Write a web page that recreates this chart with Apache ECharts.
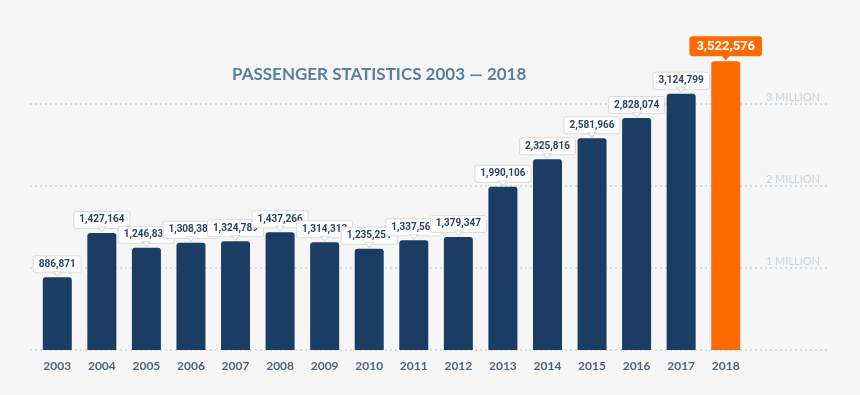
<!DOCTYPE html>
<html><head><meta charset="utf-8">
<script src="https://cdn.jsdelivr.net/npm/echarts@6/dist/echarts.min.js"></script>
<style>html,body{margin:0;padding:0;background:#f6f6f6}#c{width:860px;height:395px}</style>
</head><body><div id="c"></div>
<script>
const years = ['2003','2004','2005','2006','2007','2008','2009','2010','2011','2012','2013','2014','2015','2016','2017','2018'];
const passengers = [886871,1427164,1246834,1308386,1324789,1437266,1314313,1235251,1337562,1379347,1990106,2325816,2581966,2828074,3124799,3522576];
const highlightYear = '2018';
const yTicks = {0:'',1000000:'1 MILLION',2000000:'2 MILLION',3000000:'3 MILLION'};
const titleText = 'PASSENGER STATISTICS 2003 \u2014 2018';

const navy = '#1b3c63', orange = '#ff6a00';
const fmt = v => v.toLocaleString('en-US');

const data = passengers.map((v,i) => {
  const hi = years[i] === highlightYear;
  return {
    value: v,
    itemStyle: {color: hi ? orange : navy},
    label: hi ? {
      backgroundColor: orange, color: '#fff', fontSize: 13, fontWeight: 'bold',
      borderColor: orange, padding: [3,6,2,6], distance: 6
    } : {}
  };
});

const pointers = passengers.map((v,i) => {
  const hi = years[i] === highlightYear;
  return {
    coord: [years[i], v],
    symbolOffset: [0, hi ? -4 : -3.5],
    itemStyle: hi ? {color: orange, borderColor: orange} : {color: '#ffffff', borderColor: '#dcdcdc'}
  };
});

const chart = echarts.init(document.getElementById('c'));
chart.setOption({
  backgroundColor: '#f6f6f6',
  animation: false,
  title: {
    text: titleText, left: 227, top: 61,
    textStyle: {fontFamily: 'Lato', fontWeight: 'bold', fontSize: 17, color: '#5b7e9e'}
  },
  grid: [
    {left: 30, right: 31, top: 54.8, bottom: 45},
    {left: 35, right: 112, top: 54.8, bottom: 45}
  ],
  xAxis: [
    {gridIndex: 0, type: 'value', show: false, min: 0, max: 1},
    {gridIndex: 1, type: 'category', data: years,
     axisLine: {show: false}, axisTick: {show: false},
     axisLabel: {margin: 10, fontFamily: 'Lato', fontWeight: 'bold', fontSize: 12, color: '#4a6686'}}
  ],
  yAxis: [
    {gridIndex: 0, type: 'value', position: 'right', min: 0, max: 3600000, interval: 1000000,
     axisLine: {show: false}, axisTick: {show: false},
     axisLabel: {inside: true, margin: 9, verticalAlign: 'bottom', padding: [0,0,1,0],
       fontFamily: 'Lato', fontSize: 11, color: '#c9d4df', formatter: v => yTicks[v] || ''},
     splitLine: {show: true, lineStyle: {type: [2,3], width: 1.5,
       color: ['#c8d3de','#c8d3de','#c8d3de','#c8d3de','rgba(0,0,0,0)']}}},
    {gridIndex: 1, type: 'value', min: 0, max: 3600000, interval: 1000000, show: false,
     splitLine: {show: false}}
  ],
  series: [{
    type: 'bar', xAxisIndex: 1, yAxisIndex: 1, data: data, barWidth: 29,
    itemStyle: {borderRadius: [3,3,0,0]},
    labelLayout: {hideOverlap: false},
    label: {
      show: true, position: 'top', distance: 5, formatter: p => fmt(p.value),
      fontFamily: 'Roboto', fontWeight: 'bold', fontSize: 10, color: '#2a4566',
      backgroundColor: '#ffffff', borderColor: '#dcdcdc', borderWidth: 1, borderRadius: 2,
      padding: [3,5,3,5]
    },
    markPoint: {
      symbol: 'triangle', symbolRotate: 180, symbolSize: [8,5], silent: true,
      label: {show: false}, itemStyle: {borderWidth: 1},
      data: pointers
    }
  }]
});
</script></body></html>
